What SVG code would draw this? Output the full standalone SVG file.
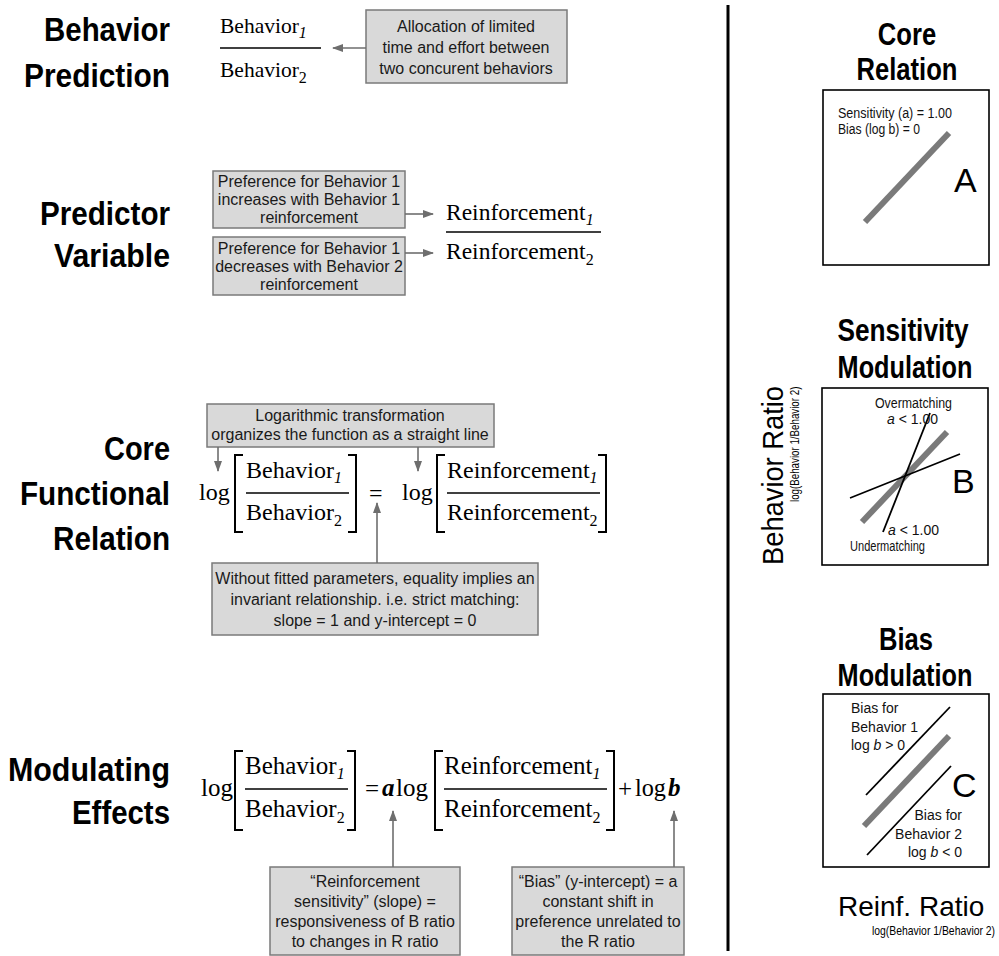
<svg xmlns="http://www.w3.org/2000/svg" width="999" height="956" viewBox="0 0 999 956">
<style>
.ttl{font-family:"Liberation Sans",Arial,sans-serif;font-weight:bold;font-size:33px;text-anchor:end;fill:#000}
.rttl{font-family:"Liberation Sans",Arial,sans-serif;font-weight:bold;font-size:32px;text-anchor:middle;fill:#000}
.box{fill:#d9d9d9;stroke:#7a7a7a;stroke-width:1.5}
.bt{font-family:"Liberation Sans",Arial,sans-serif;font-size:16px;text-anchor:middle;fill:#1a1a1a}
.m{font-family:"Liberation Serif","Times New Roman",serif;fill:#000}
.sub{font-size:16px}
.it{font-style:italic}
.bi{font-style:italic;font-weight:bold}
.bar{stroke:#000;stroke-width:1.3}
.brk{fill:none;stroke:#000;stroke-width:2}
.arr{stroke:#6e6e6e;stroke-width:1.6;fill:none;marker-end:url(#ah)}
.pt{font-family:"Liberation Sans",Arial,sans-serif;font-size:14px;fill:#111}
.frame{fill:#fff;stroke:#000;stroke-width:1.6}
.gl{stroke:#7a7a7a;stroke-width:6;stroke-linecap:butt}
.bl{stroke:#000;stroke-width:1.8}
.big{font-family:"Liberation Sans",Arial,sans-serif;fill:#000}
</style>
<defs>
<marker id="ah" markerUnits="userSpaceOnUse" markerWidth="11" markerHeight="8" refX="10" refY="4" orient="auto">
<path d="M0,0 L11,4 L0,8 z" fill="#6e6e6e"/>
</marker>
</defs>
<rect width="999" height="956" fill="#fff"/>

<!-- Left titles -->
<g id="t-behavior-prediction">
<text class="ttl" x="170" y="41" textLength="126" lengthAdjust="spacingAndGlyphs">Behavior</text>
<text class="ttl" x="170" y="87" textLength="146" lengthAdjust="spacingAndGlyphs">Prediction</text>
</g>
<g id="t-predictor-variable">
<text class="ttl" x="170" y="225" textLength="130" lengthAdjust="spacingAndGlyphs">Predictor</text>
<text class="ttl" x="170" y="267" textLength="116" lengthAdjust="spacingAndGlyphs">Variable</text>
</g>
<g id="t-core-functional">
<text class="ttl" x="170" y="460" textLength="66" lengthAdjust="spacingAndGlyphs">Core</text>
<text class="ttl" x="170" y="505" textLength="150" lengthAdjust="spacingAndGlyphs">Functional</text>
<text class="ttl" x="170" y="550" textLength="117" lengthAdjust="spacingAndGlyphs">Relation</text>
</g>
<g id="t-modulating">
<text class="ttl" x="170" y="781" textLength="162" lengthAdjust="spacingAndGlyphs">Modulating</text>
<text class="ttl" x="170" y="824" textLength="98" lengthAdjust="spacingAndGlyphs">Effects</text>
</g>

<!-- Row 1 -->
<g id="eq1">
<text class="m" x="220" y="33" font-size="21.5">Behavior<tspan class="sub it" dy="5">1</tspan></text>
<line class="bar" x1="220" y1="48" x2="321" y2="48"/>
<text class="m" x="220" y="77" font-size="21.5">Behavior<tspan class="sub" dy="6">2</tspan></text>
</g>
<g id="box-allocation">
<rect class="box" x="366" y="10" width="201" height="73"/>
<text class="bt" x="466" y="32" font-size="17">Allocation of limited</text>
<text class="bt" x="466" y="53" font-size="17">time and effort between</text>
<text class="bt" x="466" y="74" font-size="17">two concurent behaviors</text>
</g>

<!-- Row 2 -->
<g id="box-increases">
<rect class="box" x="213" y="171" width="192" height="57"/>
<text class="bt" x="309" y="187" font-size="15.5">Preference for Behavior 1</text>
<text class="bt" x="309" y="205" font-size="15.5">increases with Behavior 1</text>
<text class="bt" x="309" y="223" font-size="15.5">reinforcement</text>
</g>
<g id="box-decreases">
<rect class="box" x="213" y="237" width="192" height="58"/>
<text class="bt" x="309" y="254" font-size="15.5">Preference for Behavior 1</text>
<text class="bt" x="309" y="272" font-size="15.5">decreases with Behavior 2</text>
<text class="bt" x="309" y="290" font-size="15.5">reinforcement</text>
</g>
<g id="eq2">
<text class="m" x="446" y="220" font-size="23.5">Reinforcement<tspan class="sub it" dy="5">1</tspan></text>
<line class="bar" x1="446" y1="232" x2="601" y2="232"/>
<text class="m" x="446" y="259" font-size="23.5">Reinforcement<tspan class="sub" dy="6">2</tspan></text>
</g>

<!-- Row 3 -->
<g id="box-log">
<rect class="box" x="207" y="404" width="287" height="43"/>
<text class="bt" x="350" y="421">Logarithmic transformation</text>
<text class="bt" x="350" y="440">organizes the function as a straight line</text>
</g>
<g id="eq3">
<text class="m" x="199" y="500" font-size="24">log</text>
<path class="brk" d="M243,455 H235 V532 H243"/>
<text class="m" x="246" y="478" font-size="24">Behavior<tspan class="sub it" dy="5">1</tspan></text>
<line class="bar" x1="246" y1="493" x2="349" y2="493"/>
<text class="m" x="246" y="520" font-size="24">Behavior<tspan class="sub" dy="6">2</tspan></text>
<path class="brk" d="M348,455 H356 V532 H348"/>
<text class="m" x="369" y="501" font-size="24">=</text>
<text class="m" x="402" y="500" font-size="24">log</text>
<path class="brk" d="M445,455 H437 V532 H445"/>
<text class="m" x="447" y="478" font-size="24">Reinforcement<tspan class="sub it" dy="5">1</tspan></text>
<line class="bar" x1="447" y1="493" x2="600" y2="493"/>
<text class="m" x="447" y="520" font-size="24">Reinforcement<tspan class="sub" dy="6">2</tspan></text>
<path class="brk" d="M598,455 H606 V532 H598"/>
</g>
<g id="box-without">
<rect class="box" x="212" y="563" width="326" height="72"/>
<text class="bt" x="375" y="584" font-size="16.5">Without fitted parameters, equality implies an</text>
<text class="bt" x="375" y="605" font-size="16.5">invariant relationship. i.e. strict matching:</text>
<text class="bt" x="375" y="626" font-size="16.5">slope = 1 and y-intercept = 0</text>
</g>

<!-- Row 4 -->
<g id="eq4">
<text class="m" x="201" y="796" font-size="25">log</text>
<path class="brk" d="M243,751 H235 V830 H243"/>
<text class="m" x="245" y="774" font-size="25">Behavior<tspan class="sub it" dy="5">1</tspan></text>
<line class="bar" x1="245" y1="789" x2="348" y2="789"/>
<text class="m" x="245" y="817" font-size="25">Behavior<tspan class="sub" dy="6">2</tspan></text>
<path class="brk" d="M347,751 H355 V830 H347"/>
<text class="m" x="365" y="797" font-size="25">=</text>
<text class="m bi" x="382" y="796" font-size="25">a</text>
<text class="m" x="396" y="796" font-size="25">log</text>
<path class="brk" d="M443,751 H435 V830 H443"/>
<text class="m" x="444" y="774" font-size="25">Reinforcement<tspan class="sub it" dy="5">1</tspan></text>
<line class="bar" x1="444" y1="789" x2="607" y2="789"/>
<text class="m" x="444" y="817" font-size="25">Reinforcement<tspan class="sub" dy="6">2</tspan></text>
<path class="brk" d="M606,751 H614 V830 H606"/>
<text class="m" x="618" y="797" font-size="25">+</text>
<text class="m" x="635" y="796" font-size="25" textLength="31" lengthAdjust="spacingAndGlyphs">log</text>
<text class="m bi" x="668" y="796" font-size="25">b</text>
</g>
<g id="box-sensitivity">
<rect class="box" x="270" y="867" width="190" height="88"/>
<text class="bt" x="365" y="887" font-size="16.5">“Reinforcement</text>
<text class="bt" x="365" y="907" font-size="16.5">sensitivity” (slope) =</text>
<text class="bt" x="365" y="927" font-size="16.5">responsiveness of B ratio</text>
<text class="bt" x="365" y="947" font-size="16.5">to changes in R ratio</text>
</g>
<g id="box-bias">
<rect class="box" x="512" y="867" width="172" height="88"/>
<text class="bt" x="598" y="887" font-size="16.5">“Bias” (y-intercept) = a</text>
<text class="bt" x="598" y="907" font-size="16.5">constant shift in</text>
<text class="bt" x="598" y="927" font-size="16.5">preference unrelated to</text>
<text class="bt" x="598" y="947" font-size="16.5">the R ratio</text>
</g>

<!-- Connectors -->
<g id="connectors">
<line class="arr" x1="366" y1="48" x2="333" y2="48"/>
<line class="arr" x1="405" y1="214" x2="433" y2="214"/>
<line class="arr" x1="405" y1="253" x2="433" y2="253"/>
<line class="arr" x1="218" y1="447" x2="218" y2="471"/>
<line class="arr" x1="418" y1="447" x2="418" y2="471"/>
<line class="arr" x1="377" y1="563" x2="377" y2="503"/>
<line class="arr" x1="393" y1="867" x2="393" y2="811"/>
<line class="arr" x1="674" y1="867" x2="674" y2="811"/>
</g>

<!-- Divider -->
<line x1="728" y1="5" x2="728" y2="951" stroke="#000" stroke-width="3"/>

<!-- Panel A -->
<g id="panel-a">
<text class="rttl" transform="translate(907,45) scale(0.8,1)">Core</text>
<text class="rttl" transform="translate(907,80) scale(0.8,1)">Relation</text>
<rect class="frame" x="823" y="90" width="166" height="175"/>
<text class="pt" x="838" y="118" textLength="114" lengthAdjust="spacingAndGlyphs">Sensitivity (a) = 1.00</text>
<text class="pt" x="838" y="134" textLength="82" lengthAdjust="spacingAndGlyphs">Bias (log b) = 0</text>
<line class="gl" x1="865" y1="222" x2="949" y2="133"/>
<text class="big" x="954" y="192" font-size="34">A</text>
</g>

<!-- Panel B -->
<g id="panel-b">
<text class="rttl" transform="translate(903,341) scale(0.82,1)">Sensitivity</text>
<text class="rttl" transform="translate(905,378) scale(0.79,1)">Modulation</text>
<rect class="frame" x="822" y="388" width="166" height="177"/>
<line class="gl" x1="862" y1="522" x2="947" y2="432"/>
<line class="bl" x1="883" y1="532" x2="930" y2="413"/>
<line class="bl" x1="850" y1="498" x2="960" y2="454"/>
<text class="pt" x="875" y="408" textLength="77" lengthAdjust="spacingAndGlyphs">Overmatching</text>
<text class="pt" x="887" y="424"><tspan font-style="italic">a</tspan> &lt; 1.00</text>
<text class="pt" x="888" y="535"><tspan font-style="italic">a</tspan> &lt; 1.00</text>
<text class="pt" x="850" y="551" textLength="75" lengthAdjust="spacingAndGlyphs">Undermatching</text>
<text class="big" x="952" y="493" font-size="34">B</text>
</g>

<!-- Panel C -->
<g id="panel-c">
<text class="rttl" transform="translate(906,650) scale(0.8,1)">Bias</text>
<text class="rttl" transform="translate(905,686) scale(0.79,1)">Modulation</text>
<rect class="frame" x="823" y="694" width="166" height="173"/>
<line class="bl" x1="866" y1="795" x2="950" y2="707"/>
<line class="gl" x1="864" y1="826" x2="949" y2="736"/>
<line class="bl" x1="867" y1="855" x2="951" y2="766"/>
<text class="pt" x="851" y="713">Bias for</text>
<text class="pt" x="851" y="732">Behavior 1</text>
<text class="pt" x="851" y="750">log <tspan font-style="italic">b</tspan> &gt; 0</text>
<text class="pt" x="962" y="820" text-anchor="end">Bias for</text>
<text class="pt" x="962" y="839" text-anchor="end">Behavior 2</text>
<text class="pt" x="962" y="857" text-anchor="end">log <tspan font-style="italic">b</tspan> &lt; 0</text>
<text class="big" x="952" y="797" font-size="34">C</text>
</g>

<!-- Axis labels -->
<g id="axis-y">
<text class="big" transform="translate(783,565) rotate(-90) scale(0.91,1)" font-size="30">Behavior Ratio</text>
<text class="big" transform="translate(799,502) rotate(-90) scale(0.75,1)" font-size="13">log(Behavior 1/Behavior 2)</text>
</g>
<g id="axis-x">
<text class="big" x="838" y="916" font-size="28">Reinf. Ratio</text>
<text class="big" transform="translate(872,935) scale(0.8,1)" font-size="13">log(Behavior 1/Behavior 2)</text>
</g>
</svg>
